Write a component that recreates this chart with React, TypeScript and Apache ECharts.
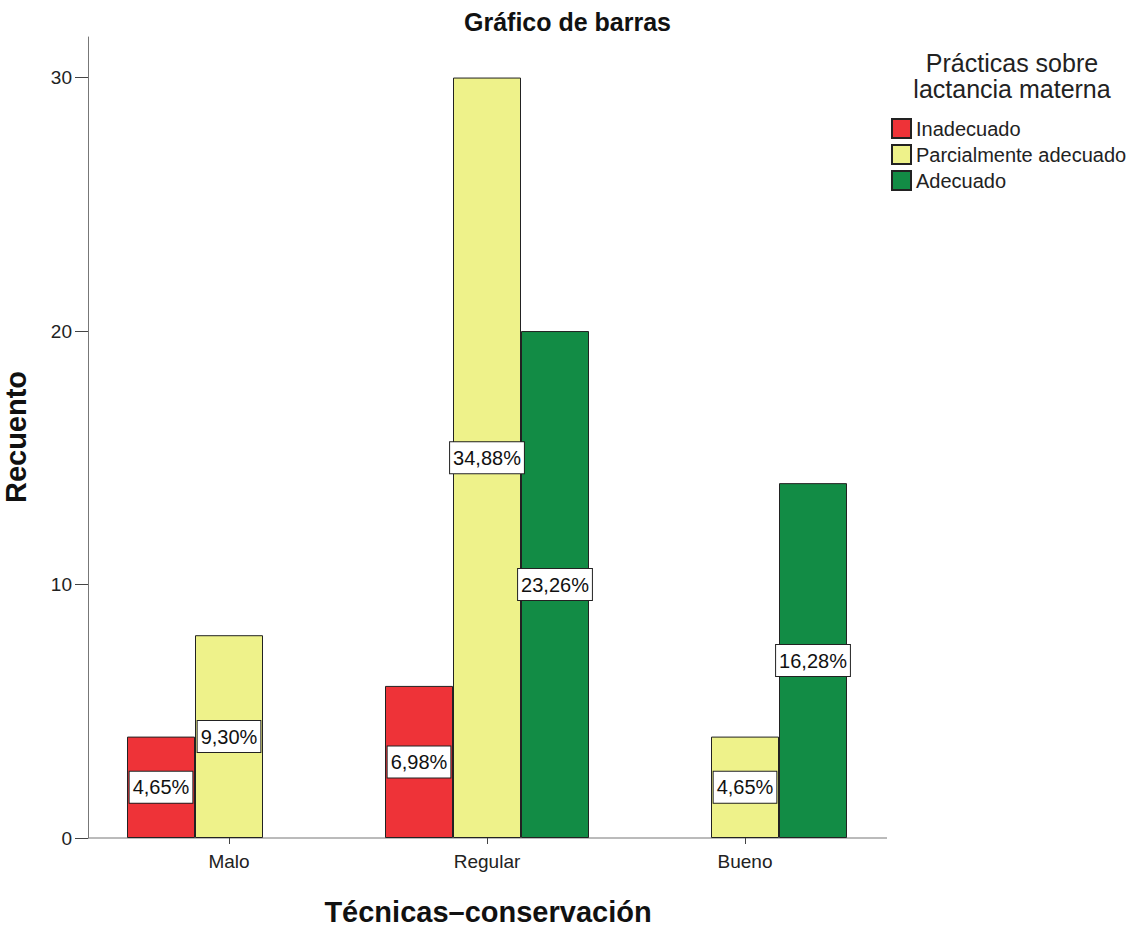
import React, { useEffect, useRef } from "react";
import * as echarts from "echarts";

const categories = ["Malo", "Regular", "Bueno"];
const seriesNames = ["Inadecuado", "Parcialmente adecuado", "Adecuado"];
const inadecuado = [4, 6, null];
const parcial = [8, 30, 4];
const adecuado = [null, 20, 14];
const colors = ["#EE3338", "#EEF28A", "#128C45"];
const yTickValues = [0, 10, 20, 30];
const yRange = { min: 0, max: 31.6, interval: 10 };

const FONT = "'Liberation Sans', Arial, sans-serif";

export default function App() {
  const ref = useRef<HTMLDivElement>(null);
  useEffect(() => {
    if (!ref.current) return;
    const chart = echarts.init(ref.current, null, { renderer: "svg" });
    const all = [inadecuado, parcial, adecuado];
    const total = all.flat().reduce((s: number, v) => s + (v ?? 0), 0);
    const fmt = (p: any) =>
      ((p.value / total) * 100).toFixed(2).replace(".", ",") + "%";
    const series = all.map((d, i) => ({
      name: seriesNames[i],
      type: "bar",
      data: d,
      barWidth: 68,
      barGap: "0%",
      itemStyle: { color: colors[i], borderColor: "#222", borderWidth: 1 },
      label: {
        show: true,
        position: "inside",
        formatter: fmt,
        color: "#111",
        fontSize: 20,
        fontFamily: FONT,
        backgroundColor: "#fff",
        borderColor: "#222",
        borderWidth: 1,
        padding: [6, 3, 5, 3],
      },
    }));
    chart.setOption({
      animation: false,
      textStyle: { fontFamily: FONT },
      title: {
        text: "Gráfico de barras",
        left: "center",
        top: 4,
        textStyle: { fontSize: 25, fontWeight: "bold", color: "#111", fontFamily: FONT },
      },
      legend: {
        orient: "vertical",
        left: 886,
        top: 113,
        icon: "rect",
        itemWidth: 19,
        itemHeight: 19,
        itemGap: 5,
        textStyle: { fontSize: 20, color: "#222", fontFamily: FONT },
        data: seriesNames,
      },
      grid: { left: 100, right: 261, top: 37, bottom: 90 },
      xAxis: {
        type: "category",
        data: categories,
        axisLine: { show: false },
        axisTick: { show: true, alignWithLabel: true, length: 6, lineStyle: { color: "#444" } },
        axisLabel: { fontSize: 19, color: "#222", margin: 14, fontFamily: FONT },
      },
      yAxis: {
        type: "value",
        min: yRange.min,
        max: yRange.max,
        interval: yRange.interval,
        offset: 12,
        splitLine: { show: false },
        axisLine: { show: true, lineStyle: { color: "#777" } },
        axisTick: { show: true, length: 13, lineStyle: { color: "#444" }, customValues: yTickValues },
        axisLabel: { fontSize: 19, color: "#222", margin: 16, fontFamily: FONT, customValues: yTickValues },
      },
      graphic: [
        {
          type: "line",
          shape: { x1: 88, y1: 838, x2: 887, y2: 838 },
          style: { stroke: "#777", lineWidth: 1 },
          z: 0,
        },
        {
          type: "text",
          x: 1012,
          y: 50,
          style: {
            text: "Prácticas sobre\nlactancia materna",
            fontSize: 25,
            lineHeight: 26,
            fill: "#222",
            fontFamily: FONT,
            align: "center",
          },
        },
        {
          type: "text",
          x: 16,
          y: 437,
          rotation: Math.PI / 2,
          style: {
            text: "Recuento",
            fontSize: 29,
            fontWeight: "bold",
            fill: "#111",
            fontFamily: FONT,
            align: "center",
            verticalAlign: "middle",
          },
        },
        {
          type: "text",
          x: 488,
          y: 912,
          style: {
            text: "Técnicas–conservación",
            fontSize: 29,
            fontWeight: "bold",
            fill: "#111",
            fontFamily: FONT,
            align: "center",
            verticalAlign: "middle",
          },
        },
      ],
      series,
    });
    return () => chart.dispose();
  }, []);
  return <div ref={ref} style={{ width: 1135, height: 928, position: "absolute", left: 0, top: 0 }} />;
}
